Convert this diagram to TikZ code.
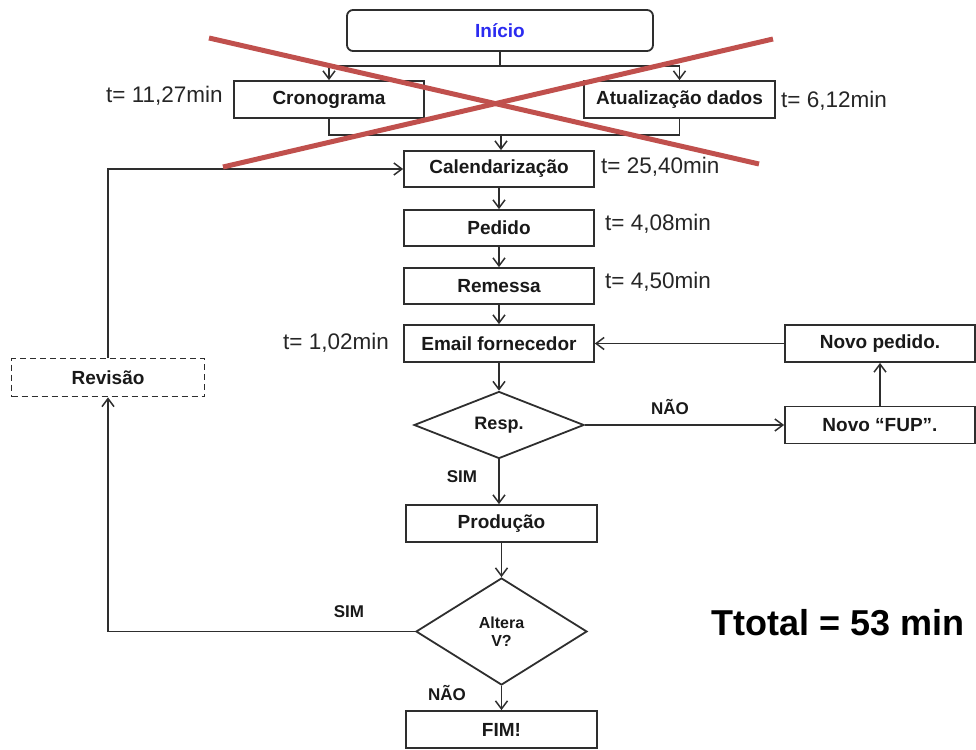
\documentclass[tikz,border=0pt]{standalone}
\usepackage{fontspec}
\setmainfont{Liberation Sans}
\usetikzlibrary{arrows.meta,shapes.geometric}
\definecolor{lncol}{HTML}{2E2E2E}
\definecolor{xred}{HTML}{C0504D}
\definecolor{startblue}{HTML}{2B2BF0}
\tikzset{
  box/.style={draw=lncol, line width=1.8pt, inner sep=0pt, minimum width=190pt, minimum height=37pt,
    font=\bfseries\fontsize{19}{21}\selectfont, text=black!90},
  dia/.style={draw=lncol, line width=1.8pt, diamond, inner sep=0pt, align=center, text=black!90},
  conn/.style={draw=lncol, line width=1.8pt},
  arr/.style={conn, -{Straight Barb[length=8pt,width=12pt,line width=1.5pt]}},
  tlab/.style={anchor=west, inner sep=0pt, font=\fontsize{22.5}{24}\selectfont, text=black!85},
  elab/.style={inner sep=0pt, font=\bfseries\fontsize{17}{19}\selectfont, text=black!90}
}
\begin{document}
\begin{tikzpicture}[x=1pt,y=-1pt]
\useasboundingbox (0,0) rectangle (976,749);

% nodes
\node[box, rounded corners=6pt, minimum width=306pt, minimum height=41pt, text=startblue] (ini) at (500,30.5) {Início};
\node[box] (cron) at (329,99.5) {Cronograma};
\node[box, minimum width=191pt] (atu) at (679.5,99.5) {Atualização dados};
\node[box, minimum height=36pt] (cal) at (499,169) {Calendarização};
\node[box, minimum height=36pt] (ped) at (499,228) {Pedido};
\node[box, minimum height=36pt] (rem) at (499,286) {Remessa};
\node[box] (email) at (499,343.5) {Email fornecedor};
\node[dia, minimum width=170pt, minimum height=67pt, font=\bfseries\fontsize{18}{20}\selectfont] (resp) at (499,425) {Resp.};
\node[box, minimum width=191pt] (prod) at (501.5,523.5) {Produção};
\node[dia, minimum width=171pt, minimum height=107pt, font=\bfseries\fontsize{16}{18}\selectfont] (alt) at (501.5,631.5) {Altera\\V?};
\node[box, minimum width=191pt] (fim) at (501.5,729.5) {FIM!};
\node[box] (nped) at (880,343.5) {Novo pedido.};
\node[box] (fup) at (880,425) {Novo “FUP”.};
\node[box, dashed, dash pattern=on 6pt off 4pt, minimum width=193pt, minimum height=38pt] (rev) at (108,377.5) {Revisão};

% time labels
\node[tlab] (t1) at (106,96) {t= 11,27min};
\node[tlab] (t2) at (781,101) {t= 6,12min};
\node[tlab] (t3) at (601,167) {t= 25,40min};
\node[tlab] (t4) at (605,224) {t= 4,08min};
\node[tlab] (t5) at (605,282) {t= 4,50min};
\node[tlab] (t6) at (283,343) {t= 1,02min};

% edge labels
\node[elab] (l1) at (670,407) {NÃO};
\node[elab] (l2) at (462,477) {SIM};
\node[elab] (l3) at (447,693) {NÃO};
\node[elab] (l4) at (349,612) {SIM};

\node[inner sep=0pt, font=\bfseries\fontsize{36}{40}\selectfont] (tot) at (838,623) {Ttotal = 53 min};

% connectors
\coordinate (split) at (500,66);
\coordinate (merge) at (501,135);
\draw[conn] (ini.south) -- (split);
\draw[arr] (split) -| (cron.north);
\draw[arr] (split) -| (atu.north);
\draw[conn] (cron.south) |- (merge) -| (atu.south);
\draw[arr] (merge) -- (merge |- cal.north);
\draw[arr] (cal) -- (ped);
\draw[arr] (ped) -- (rem);
\draw[arr] (rem) -- (email);
\draw[arr] (email.south) -- (resp.north);
\draw[arr] (resp.east) -- (fup.west);
\draw[arr] (fup) -- (nped);
\draw[arr] (nped) -- (email);
\draw[arr] (resp.south) -- (resp.south |- prod.north);
\draw[arr] (prod) -- (alt);
\draw[arr] (alt) -- (fim);
\draw[arr] (alt.west) -| (rev.south);
\draw[arr] (rev.north) |- (cal.west);

% red cross
\draw[xred, line width=5pt] (209,38) -- (759,164);
\draw[xred, line width=5pt] (223,167) -- (773,39);
\end{tikzpicture}
\end{document}
